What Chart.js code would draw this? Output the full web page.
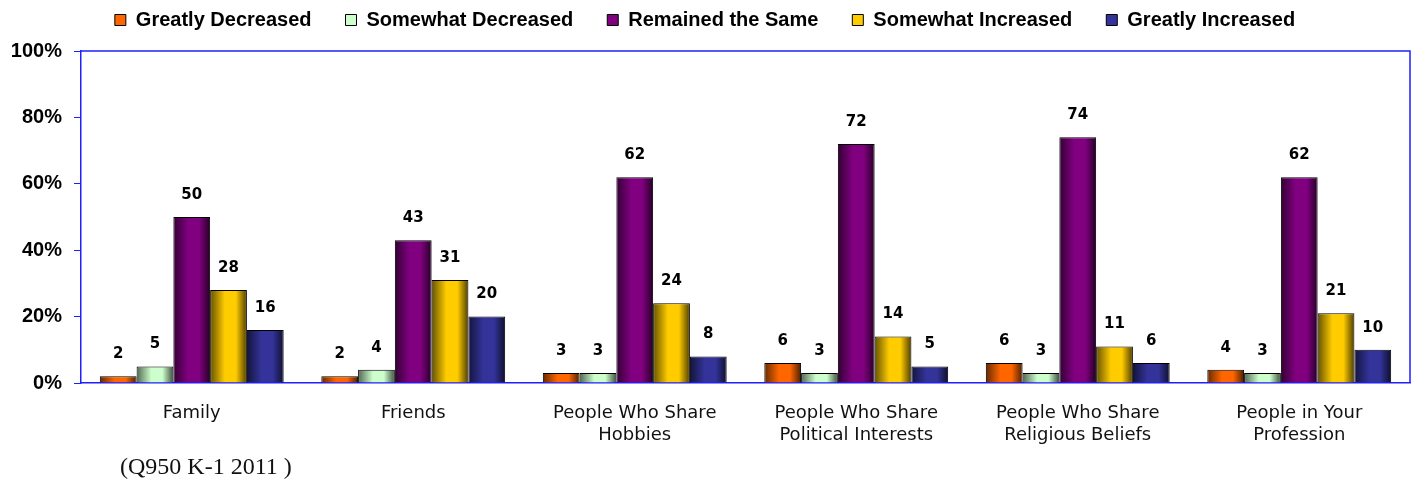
<!DOCTYPE html>
<html>
<head>
<meta charset="utf-8">
<script src="https://cdn.jsdelivr.net/npm/chart.js@4.4.1/dist/chart.umd.min.js"></script>
<style>
  html, body { margin: 0; padding: 0; background: #fff; }
  #wrap { width: 1418px; height: 482px; position: relative; }
</style>
</head>
<body>
<div id="wrap"><canvas id="mycanvas"></canvas></div>
<script>
var categories = [
  'Family',
  'Friends',
  ['People Who Share', 'Hobbies'],
  ['People Who Share', 'Political Interests'],
  ['People Who Share', 'Religious Beliefs'],
  ['People in Your', 'Profession']
];
var greatlyDecreased = [2, 2, 3, 6, 6, 4];
var somewhatDecreased = [5, 4, 3, 3, 3, 3];
var remainedSame = [50, 43, 62, 72, 74, 62];
var somewhatIncreased = [28, 31, 24, 14, 11, 21];
var greatlyIncreased = [16, 20, 8, 5, 6, 10];
var yTicks = [0, 20, 40, 60, 80, 100];
var footnote = '(Q950 K-1 2011 )';

var AXIS_BLUE = '#1f1fff';
var LEGEND_PAD = 34;

function shade(hex, f) {
  var r = parseInt(hex.substr(1, 2), 16), g = parseInt(hex.substr(3, 2), 16), b = parseInt(hex.substr(5, 2), 16);
  return 'rgb(' + Math.round(r * f) + ',' + Math.round(g * f) + ',' + Math.round(b * f) + ')';
}

// horizontal "dark - colour - dark" fill like the old office charts
function barFill(base) {
  return function(c) {
    if (c.type !== 'data' || !c.chart.scales.x) return base;
    var x = c.chart.scales.x;
    var cw = x.width / categories.length;
    var gw = cw * 0.83;
    var bw = gw / 5;
    var left = x.getPixelForValue(c.dataIndex) - gw / 2 + c.datasetIndex * bw;
    var g = c.chart.ctx.createLinearGradient(left, 0, left + bw, 0);
    g.addColorStop(0, shade(base, 0.4));
    g.addColorStop(0.4, base);
    g.addColorStop(0.7, base);
    g.addColorStop(1, shade(base, 0.3));
    return g;
  };
}

function makeSet(label, data, color) {
  return {
    label: label,
    data: data,
    backgroundColor: barFill(color),
    borderColor: '#000',
    borderWidth: 1,
    categoryPercentage: 0.83,
    barPercentage: 1.0
  };
}

var labelPlugin = {
  id: 'valueLabels',
  afterDatasetsDraw: function(chart) {
    var ctx = chart.ctx;
    ctx.save();
    ctx.font = 'bold 15px "DejaVu Sans"';
    ctx.fillStyle = '#000';
    ctx.textAlign = 'center';
    ctx.textBaseline = 'middle';
    chart.data.datasets.forEach(function(ds, i) {
      chart.getDatasetMeta(i).data.forEach(function(bar, j) {
        ctx.fillText(ds.data[j], bar.x, bar.y - 22);
      });
    });
    ctx.restore();
  }
};

var framePlugin = {
  id: 'frame',
  afterInit: function(chart) {
    var lg = chart.legend;
    if (lg) {
      var fit = lg.fit;
      lg.fit = function() { fit.call(this); this.height = 51; };
    }
  },
  afterLayout: function(chart) {
    // wide gaps between legend items, but keep the row near the top
    var lg = chart.legend;
    if (lg) {
      lg.top = 10 - LEGEND_PAD;
      lg.bottom = lg.top + 2 * LEGEND_PAD + 24;
      lg.height = lg.bottom - lg.top;
    }
  },
  afterDraw: function(chart) {
    var a = chart.chartArea, ctx = chart.ctx;
    ctx.save();
    ctx.strokeStyle = AXIS_BLUE;
    ctx.lineWidth = 1.5;
    ctx.beginPath();
    ctx.moveTo(a.left, a.top);
    ctx.lineTo(a.right, a.top);
    ctx.lineTo(a.right, a.bottom);
    ctx.stroke();
    ctx.font = '24px "Liberation Serif"';
    ctx.fillStyle = '#111';
    ctx.textBaseline = 'middle';
    ctx.fillText(footnote, 120, 468);
    ctx.restore();
  }
};

var ctx = document.getElementById('mycanvas');
var barGraph = new Chart(ctx, {
  type: 'bar',
  data: {
    labels: categories,
    datasets: [
      makeSet('Greatly Decreased', greatlyDecreased, '#FF6600'),
      makeSet('Somewhat Decreased', somewhatDecreased, '#CCFFCC'),
      makeSet('Remained the Same', remainedSame, '#800080'),
      makeSet('Somewhat Increased', somewhatIncreased, '#FFCC00'),
      makeSet('Greatly Increased', greatlyIncreased, '#333399')
    ]
  },
  options: {
    responsive: true,
    maintainAspectRatio: false,
    animation: false,
    layout: { padding: { left: 0, right: 8, top: 0, bottom: 0 } },
    plugins: {
      legend: {
        position: 'top',
        labels: {
          boxWidth: 11,
          boxHeight: 11,
          padding: LEGEND_PAD,
          color: '#000',
          font: { family: '"Liberation Sans"', size: 20, weight: 'bold' },
          generateLabels: function(chart) {
            var cols = ['#FF6600', '#CCFFCC', '#800080', '#FFCC00', '#333399'];
            return chart.data.datasets.map(function(ds, i) {
              return { text: ds.label, fillStyle: cols[i], strokeStyle: '#000', lineWidth: 1, datasetIndex: i };
            });
          }
        }
      },
      tooltip: { enabled: false }
    },
    scales: {
      x: {
        grid: { display: false, drawTicks: false },
        border: { color: AXIS_BLUE, width: 1.5 },
        ticks: {
          padding: 19,
          color: '#111',
          maxRotation: 0,
          autoSkip: false,
          font: { family: '"DejaVu Sans"', size: 18, lineHeight: 1.25 }
        },
        afterFit: function(s) { s.height = 99; }
      },
      y: {
        min: 0,
        max: 100,
        afterBuildTicks: function(s) { s.ticks = yTicks.map(function(v) { return { value: v }; }); },
        grid: { drawOnChartArea: false, drawTicks: true, tickLength: 7, color: AXIS_BLUE },
        border: { color: AXIS_BLUE, width: 1.5 },
        ticks: {
          padding: 12,
          color: '#000',
          font: { family: '"Liberation Sans"', size: 20, weight: 'bold' },
          callback: function(v) { return v + '%'; }
        },
        afterFit: function(s) { s.width = 81; }
      }
    }
  },
  plugins: [labelPlugin, framePlugin]
});
</script>
</body>
</html>
